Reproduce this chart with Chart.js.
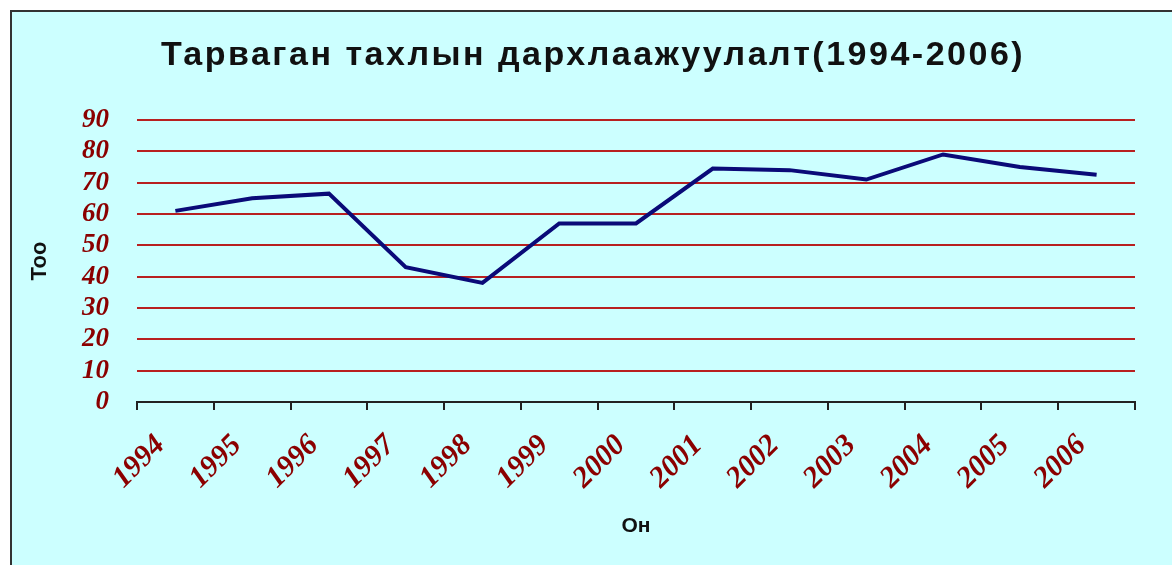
<!DOCTYPE html>
<html><head><meta charset="utf-8">
<script src="https://cdn.jsdelivr.net/npm/chart.js@4.4.1/dist/chart.umd.min.js"></script>
<style>
html,body{margin:0;padding:0;background:#fff;width:1172px;height:565px;overflow:hidden;}
#box{position:absolute;left:10px;top:10px;width:1162px;height:555px;box-sizing:border-box;border-left:2px solid #333;border-top:2px solid #333;background:#ccffff;}
#c{display:block;}
</style></head><body>
<div id="box"><canvas id="c" width="1160" height="553"></canvas></div>
<script>
const chartTitle = 'Тарваган тахлын дархлаажуулалт(1994-2006)';
const xTitle = 'Он';
const yTitle = 'Тоо';
const years = ['1994','1995','1996','1997','1998','1999','2000','2001','2002','2003','2004','2005','2006'];
const counts = [61, 65, 66.5, 43, 38, 57, 57, 74.5, 74, 71, 79, 75, 72.5];
const yMin = 0, yMax = 90, yStep = 10;

const tickColor = '#8b0000';
const serif = '"Liberation Serif", "Times New Roman", serif';
const sans = '"Liberation Sans", Arial, sans-serif';

const spacedTitle = {
  id: 'spacedTitle',
  afterDraw(chart) {
    const ctx = chart.ctx;
    ctx.save();
    ctx.font = 'bold 34px ' + sans;
    ctx.fillStyle = '#111';
    ctx.textAlign = 'center';
    ctx.textBaseline = 'alphabetic';
    try { ctx.letterSpacing = '2.5px'; } catch (e) {}
    ctx.fillText(chartTitle, chart.width / 2 + 1, 53);
    ctx.restore();
  }
};

new Chart(document.getElementById('c'), {
  type: 'line',
  data: {
    labels: years,
    datasets: [{
      data: counts,
      borderColor: '#0a0a78',
      borderWidth: 4,
      pointRadius: 0,
      tension: 0,
      fill: false
    }]
  },
  plugins: [spacedTitle],
  options: {
    responsive: false,
    animation: false,
    layout: {padding: {top: 108, left: 0, right: 37, bottom: 0}},
    plugins: {
      legend: {display: false},
      tooltip: {enabled: false},
      title: {display: false}
    },
    scales: {
      x: {
        offset: true,
        grid: {offset: true, drawOnChartArea: false, drawTicks: true, tickLength: 8, color: '#222', lineWidth: 2},
        border: {display: true, color: '#222', width: 2},
        ticks: {autoSkip: false, maxRotation: 45, minRotation: 45, color: tickColor,
                font: {family: serif, size: 30, weight: 'bold', style: 'italic'}, padding: 18, labelOffset: -15},
        title: {display: true, text: xTitle, color: '#111', font: {family: sans, size: 21, weight: 'bold'}, padding: {top: 0, bottom: 26}},
        afterFit: (s) => { s.height = 163; }
      },
      y: {
        min: yMin, max: yMax,
        grid: {drawTicks: false, tickLength: 0, lineWidth: 2, color: (ctx) => ctx.tick && ctx.tick.value === 0 ? 'rgba(0,0,0,0)' : '#b82020'},
        border: {display: false},
        ticks: {autoSkip: false, stepSize: yStep, color: tickColor,
                font: {family: serif, size: 27, weight: 'bold', style: 'italic'}, padding: 28},
        title: {display: true, text: yTitle, color: '#111', font: {family: sans, size: 22, weight: 'bold'}, padding: {top: 15, bottom: 0}},
        afterFit: (s) => { s.width = 125; }
      }
    }
  }
});
</script>
</body></html>
